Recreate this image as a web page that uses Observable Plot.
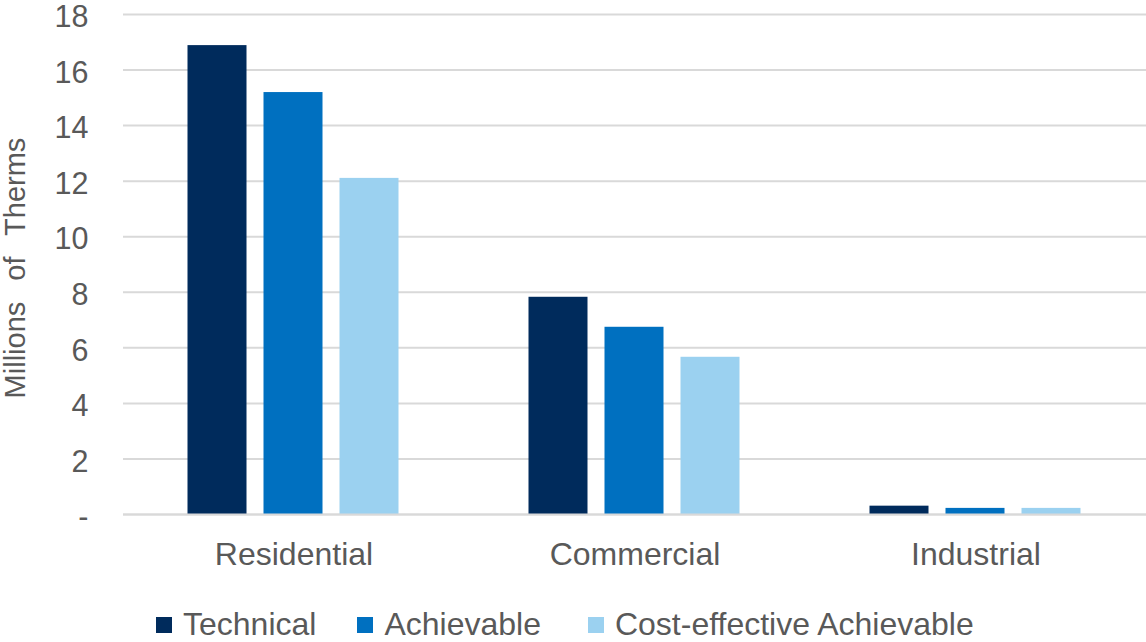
<!DOCTYPE html>
<html>
<head>
<meta charset="utf-8">
<script src="https://cdn.jsdelivr.net/npm/d3@7"></script>
<script src="https://cdn.jsdelivr.net/npm/@observablehq/plot@0.6"></script>
<style>
  html, body { margin: 0; padding: 0; background: #fff; }
  #wrap { position: relative; width: 1146px; height: 642px; overflow: hidden; font-family: "Liberation Sans", Arial, sans-serif; color: #595959; }
  #legend { position: absolute; top: 608px; left: 156px; display: flex; align-items: center; font-size: 32px; line-height: 32px; white-space: nowrap; }
  .item { display: flex; align-items: center; }
  .sw { width: 16px; height: 16px; margin-right: 11px; margin-top: 2px; }
  #ytitle { position: absolute; left: 15px; top: 268px; transform: translate(-50%, -50%) rotate(-90deg); font-size: 29px; line-height: 24px; word-spacing: 13px; white-space: nowrap; }
</style>
</head>
<body>
<div id="wrap"><div id="chart"></div><div id="ytitle"></div><div id="legend"></div></div>
<script>
const categories = ["Residential", "Commercial", "Industrial"];
const series = ["Technical", "Achievable", "Cost-effective Achievable"];
const technical = [16.88, 7.82, 0.30];
const achievable = [15.19, 6.74, 0.22];
const costEffective = [12.10, 5.66, 0.22];
const colors = ["#002B5C", "#0070C0", "#9BD1F0"];
const yTicks = [0, 2, 4, 6, 8, 10, 12, 14, 16, 18];
const yTitle = "Millions of Therms";

const seriesValues = [technical, achievable, costEffective];
const data = categories.flatMap((c, i) =>
  series.map((s, j) => ({category: c, series: s, value: seriesValues[j][i]}))
);

const chart = Plot.plot({
  width: 1146,
  height: 590,
  marginLeft: 122.5,
  marginRight: 0,
  marginTop: 14,
  marginBottom: 76,
  style: {fontFamily: "'Liberation Sans', Arial, sans-serif", fontSize: "30px", color: "#595959", background: "#fff"},
  fx: {domain: categories, padding: 0, label: null},
  x: {domain: series, axis: null, paddingInner: 0.22, paddingOuter: 0.853},
  y: {domain: [0, 18], label: null},
  color: {domain: series, range: colors},
  marks: [
    Plot.ruleY(yTicks, {stroke: "#d9d9d9", strokeWidth: 2}),
    Plot.barY(data, {fx: "category", x: "series", y: "value", fill: "series"}),
    Plot.ruleY([0], {stroke: "#d9d9d9", strokeWidth: 2}),
    Plot.axisFx({anchor: "bottom", tickSize: 0, tickPadding: 28, label: null, fontSize: 32}),
    Plot.axisY({ticks: yTicks, tickFormat: d => d === 0 ? "-" : String(d), tickSize: 0, tickPadding: 35,
      label: null, fontSize: 30.5, dy: 3})
  ]
});
document.getElementById("chart").appendChild(chart);
document.getElementById("ytitle").textContent = yTitle;

const legend = document.getElementById("legend");
const gaps = [41, 47, 0];
series.forEach((s, i) => {
  const item = document.createElement("div");
  item.className = "item";
  item.style.marginRight = gaps[i] + "px";
  const sw = document.createElement("div");
  sw.className = "sw";
  sw.style.background = colors[i];
  const t = document.createElement("span");
  t.textContent = s;
  item.appendChild(sw);
  item.appendChild(t);
  legend.appendChild(item);
});
</script>
</body>
</html>
